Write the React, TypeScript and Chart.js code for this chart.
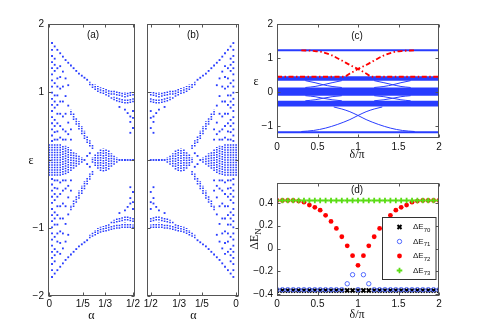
import React, { useEffect, useRef } from 'react';
import { Chart, registerables } from 'chart.js';

Chart.register(...registerables);

const BLUE = 'rgb(40,60,255)';
const BLUE_RING = 'rgb(80,105,255)';
const RED = 'rgb(255,0,0)';
const GREEN = 'rgb(90,220,20)';
const FRAME = '#555';
const TICK_FONT = { family: "'Liberation Sans', Arial, sans-serif", size: 10 };
const SANS10 = "10px 'Liberation Sans', Arial, sans-serif";
const SERIF12 = "12px 'Liberation Serif', 'DejaVu Serif', serif";

// ---------------- panels (a) and (b): ε versus α ----------------
const alphaTicks = [0, 0.2, 0.3333, 0.5];
const alphaTickLabels = ['0', '1/5', '1/3', '1/2'];
const epsTicksAB = [-2, -1, 0, 1, 2];
const epsTickLabelsAB = ['−2', '−1', '', '1', '2'];

// isolated levels: [α, ε, ε, ...]
const levelsUpper = [
  [0.016, 1.72, 1.62, 1.53, 1.44, 1.35, 1.26, 1.17, 1.08, 0.99, 0.90, 0.81, 0.72, 0.63, 0.54, 0.45, 0.36, 0.28],
  [0.032, 1.67, 1.49, 1.40, 1.31, 1.13, 0.95, 0.86, 0.77, 0.59, 0.50, 0.41, 0.30],
  [0.048, 1.62, 1.35, 1.20, 1.08, 0.95, 0.81, 0.68, 0.54, 0.42, 0.30],
  [0.065, 1.57, 1.38, 1.22, 1.05, 0.86, 0.68, 0.50, 0.33],
  [0.081, 1.52, 1.30, 1.08, 0.86, 0.64, 0.45, 0.30],
  [0.097, 1.47, 1.20, 0.94, 0.68, 0.42, 0.30],
  [0.113, 1.43, 1.10, 0.80, 0.55, 0.38],
  [0.129, 1.39, 0.45, 0.30],
  [0.145, 1.35],
  [0.161, 1.31],
  [0.177, 1.27],
  [0.194, 1.24],
  [0.210, 1.21],
  [0.226, 1.18],
  [0.419, 0.78],
  [0.452, 0.74],
  [0.468, 0.69],
  [0.484, 0.64, 0.56, 0.40],
  [0.500, 0.72, 0.62, 0.47],
];
const levelsLower = [
  [0.016, -1.72, -1.62, -1.53, -1.44, -1.35, -1.26, -1.17, -1.08, -0.99, -0.90, -0.81, -0.72, -0.63, -0.54, -0.45, -0.36, -0.28],
  [0.032, -1.67, -1.49, -1.40, -1.31, -1.13, -0.95, -0.86, -0.77, -0.59, -0.50, -0.41, -0.30],
  [0.048, -1.62, -1.35, -1.20, -1.08, -0.95, -0.81, -0.68, -0.54, -0.42, -0.30],
  [0.065, -1.57, -1.38, -1.22, -1.05, -0.86, -0.68, -0.50, -0.33],
  [0.081, -1.52, -1.30, -1.08, -0.86, -0.64, -0.45, -0.30],
  [0.097, -1.47, -1.20, -0.94, -0.68, -0.42, -0.30],
  [0.113, -1.43, -1.10, -0.80, -0.55, -0.38],
  [0.129, -1.39, -0.45, -0.30],
  [0.145, -1.35],
  [0.161, -1.31],
  [0.177, -1.27],
  [0.194, -1.24],
  [0.210, -1.21],
  [0.226, -1.18],
  [0.419, -0.78],
  [0.452, -0.74],
  [0.468, -0.69],
  [0.484, -0.64, -0.56, -0.40],
  [0.500, -0.72, -0.62, -0.47],
];
const levelsCentre = [
  [0.210, 0.0],
  [0.226, 0.06, -0.06],
  [0.242, 0.10, -0.10],
  [0.419, 0.0],
  [0.435, 0.0],
  [0.452, 0.0],
  [0.468, 0.0],
  [0.484, 0.0],
  [0.500, 0.0],
];

// dense bands of levels: [α, ε low, ε high]
const bandsUpper = [
  [0.129, 0.66, 0.74], [0.145, 0.59, 0.69], [0.161, 0.52, 0.63], [0.177, 0.45, 0.57],
  [0.194, 0.38, 0.50], [0.210, 0.31, 0.43], [0.226, 0.25, 0.36], [0.242, 0.20, 0.29],
  [0.258, 0.16, 0.22],
  [0.242, 1.10, 1.15], [0.258, 1.06, 1.13], [0.274, 1.03, 1.11], [0.290, 1.00, 1.09],
  [0.306, 0.98, 1.07], [0.323, 0.97, 1.06], [0.339, 0.95, 1.05], [0.355, 0.93, 1.04],
  [0.371, 0.96, 1.03], [0.371, 0.90, 0.93], [0.387, 0.96, 1.02], [0.387, 0.88, 0.93],
  [0.403, 0.95, 1.01], [0.403, 0.86, 0.92], [0.419, 0.94, 1.01], [0.419, 0.85, 0.91],
  [0.435, 0.93, 1.00], [0.435, 0.84, 0.90], [0.452, 0.92, 1.00], [0.452, 0.83, 0.89],
  [0.468, 0.93, 1.00], [0.468, 0.83, 0.89], [0.484, 0.94, 1.00], [0.484, 0.84, 0.90],
  [0.500, 0.95, 1.00], [0.500, 0.85, 0.91],
];
const bandsLower = [
  [0.129, -0.74, -0.66], [0.145, -0.69, -0.59], [0.161, -0.63, -0.52], [0.177, -0.57, -0.45],
  [0.194, -0.50, -0.38], [0.210, -0.43, -0.31], [0.226, -0.36, -0.25], [0.242, -0.29, -0.20],
  [0.258, -0.22, -0.16],
  [0.242, -1.15, -1.10], [0.258, -1.13, -1.06], [0.274, -1.11, -1.03], [0.290, -1.09, -1.00],
  [0.306, -1.07, -0.98], [0.323, -1.06, -0.97], [0.339, -1.05, -0.95], [0.355, -1.04, -0.93],
  [0.371, -1.03, -0.96], [0.371, -0.93, -0.90], [0.387, -1.02, -0.96], [0.387, -0.93, -0.88],
  [0.403, -1.01, -0.95], [0.403, -0.92, -0.86], [0.419, -1.01, -0.94], [0.419, -0.91, -0.85],
  [0.435, -1.00, -0.93], [0.435, -0.90, -0.84], [0.452, -1.00, -0.92], [0.452, -0.89, -0.83],
  [0.468, -1.00, -0.93], [0.468, -0.89, -0.83], [0.484, -1.00, -0.94], [0.484, -0.90, -0.84],
  [0.500, -1.00, -0.95], [0.500, -0.91, -0.85],
];
const bandsCentre = [
  [0.000, -0.23, 0.23], [0.016, -0.23, 0.23], [0.032, -0.23, 0.23], [0.048, -0.23, 0.23],
  [0.065, -0.23, 0.23], [0.081, -0.22, 0.22], [0.097, -0.21, 0.21], [0.113, -0.19, 0.19],
  [0.129, -0.16, 0.16], [0.145, -0.13, 0.13], [0.161, -0.10, 0.10], [0.177, -0.07, 0.07],
  [0.194, -0.04, 0.04],
  [0.258, -0.04, 0.04], [0.274, -0.09, 0.09], [0.290, -0.13, 0.13], [0.306, -0.16, 0.16],
  [0.323, -0.17, 0.17], [0.339, -0.16, 0.16], [0.355, -0.14, 0.14], [0.371, -0.10, 0.10],
  [0.387, -0.07, 0.07], [0.403, -0.04, 0.04],
];

// ---------------- panel (c): ε versus δ/π ----------------
const deltaTicks = [0, 0.5, 1, 1.5, 2];
const deltaTickLabels = ['0', '0.5', '1', '1.5', '2'];
const epsTicksC = [-1, 0, 1, 2];
const epsTickLabelsC = ['−1', '0', '1', '2'];
const deltaSpan = [0, 2];
const cBands = [[1.20, 1.26], [0.34, 0.47], [-0.10, 0.14], [-0.42, -0.25], [-1.20, -1.14]];
const cBlueCurves = [
  [[0.35, 0.34], [0.47, 0.28], [0.57, 0.22], [0.68, 0.17], [0.80, 0.14]],
  [[0.35, 0.14], [0.47, 0.17], [0.57, 0.22], [0.68, 0.28], [0.80, 0.34]],
  [[1.20, 0.34], [1.32, 0.28], [1.43, 0.22], [1.53, 0.17], [1.65, 0.14]],
  [[1.20, 0.14], [1.32, 0.17], [1.43, 0.22], [1.53, 0.28], [1.65, 0.34]],
  [[0.35, -0.10], [0.47, -0.13], [0.57, -0.175], [0.68, -0.22], [0.80, -0.25]],
  [[0.35, -0.25], [0.47, -0.22], [0.57, -0.175], [0.68, -0.13], [0.80, -0.10]],
  [[1.20, -0.10], [1.32, -0.13], [1.43, -0.175], [1.53, -0.22], [1.65, -0.25]],
  [[1.20, -0.25], [1.32, -0.22], [1.43, -0.175], [1.53, -0.13], [1.65, -0.10]],
  [[0.30, -1.15], [0.45, -1.12], [0.60, -1.05], [0.75, -0.94], [0.90, -0.80], [1.00, -0.68], [1.10, -0.57], [1.20, -0.49], [1.30, -0.43]],
  [[0.70, -0.43], [0.80, -0.49], [0.90, -0.57], [1.00, -0.68], [1.10, -0.80], [1.25, -0.94], [1.40, -1.05], [1.55, -1.12], [1.70, -1.15]],
];
const cRed1 = [[0.30, 1.23], [0.45, 1.21], [0.55, 1.18], [0.67, 1.09], [0.80, 0.93], [0.90, 0.80], [1.00, 0.68], [1.10, 0.55], [1.17, 0.455], [2.00, 0.455]];
const cRed2 = [[0.00, 0.455], [0.83, 0.455], [0.90, 0.55], [1.00, 0.68], [1.10, 0.80], [1.20, 0.93], [1.33, 1.09], [1.45, 1.18], [1.55, 1.21], [1.70, 1.23]];

// ---------------- panel (d): ΔE_N versus δ/π ----------------
const deltaD = [0, 0.067, 0.133, 0.2, 0.267, 0.333, 0.4, 0.467, 0.533, 0.6, 0.667, 0.733, 0.8, 0.867, 0.933, 1.0,
  1.067, 1.133, 1.2, 1.267, 1.333, 1.4, 1.467, 1.533, 1.6, 1.667, 1.733, 1.8, 1.867, 1.933, 2.0];
const dE70 = [-0.366, -0.366, -0.366, -0.366, -0.366, -0.366, -0.366, -0.366, -0.366, -0.366, -0.366, -0.366, -0.366, -0.366, -0.366, -0.366,
  -0.366, -0.366, -0.366, -0.366, -0.366, -0.366, -0.366, -0.366, -0.366, -0.366, -0.366, -0.366, -0.366, -0.366, -0.366];
const dE71 = [-0.36, -0.36, -0.36, -0.36, -0.36, -0.36, -0.36, -0.36, -0.36, -0.36, -0.36, -0.36, -0.36, -0.308, -0.229, -0.36,
  -0.229, -0.308, -0.36, -0.36, -0.36, -0.36, -0.36, -0.36, -0.36, -0.36, -0.36, -0.36, -0.36, -0.36, -0.36];
const dE72 = [0.42, 0.42, 0.42, 0.42, 0.415, 0.405, 0.38, 0.36, 0.335, 0.29, 0.237, 0.176, 0.103, 0.024, -0.062, -0.147,
  -0.062, 0.024, 0.103, 0.176, 0.237, 0.29, 0.335, 0.36, 0.38, 0.405, 0.415, 0.42, 0.42, 0.42, 0.42];
const dE73 = [0.42, 0.42, 0.42, 0.42, 0.42, 0.42, 0.42, 0.42, 0.42, 0.42, 0.42, 0.42, 0.42, 0.42, 0.42, 0.42,
  0.42, 0.42, 0.42, 0.42, 0.42, 0.42, 0.42, 0.42, 0.42, 0.42, 0.42, 0.42, 0.42, 0.42, 0.42];
const dTicksY = [-0.4, -0.2, 0, 0.2, 0.4];
const dTickLabelsY = ['−0.4', '−0.2', '0', '0.2', '0.4'];
const legendNames = ['70', '71', '72', '73'];

// ---------------- helpers ----------------
function bandPoints(rows: number[][]) {
  const out: any[] = [];
  for (const [a, lo, hi] of rows) out.push({ x: a, y: lo }, { x: a, y: hi }, { x: a, y: null });
  return out;
}
function levelPoints(rows: number[][]) {
  const out: any[] = [];
  for (const r of rows) for (let i = 1; i < r.length; i++) out.push({ x: r[0], y: r[i] });
  return out;
}
function pairPoints(rows: number[][]) {
  return rows.map(([x, y]) => ({ x, y }));
}
function seriesPoints(xs: number[], ys: number[]) {
  return xs.map((x, i) => ({ x, y: ys[i] }));
}

function makeScale(o: any) {
  return {
    type: 'linear',
    min: o.min,
    max: o.max,
    reverse: !!o.reverse,
    grid: { display: false, drawTicks: false, tickLength: 0 },
    border: { display: false },
    afterBuildTicks: (s: any) => {
      s.ticks = o.values.map((v: number) => ({ value: v }));
    },
    afterFit: (s: any) => {
      if (o.horizontal) s.height = o.size;
      else s.width = o.size;
    },
    ticks: {
      display: !!o.labels,
      autoSkip: false,
      maxRotation: 0,
      minRotation: 0,
      padding: o.pad,
      color: '#111',
      font: TICK_FONT,
      callback: (_v: any, i: number) => (o.labels ? o.labels[i] : ''),
    },
  };
}

function text(ctx: CanvasRenderingContext2D, ox: number, oy: number, s: string, x: number, y: number, font: string) {
  ctx.font = font;
  ctx.fillStyle = '#111';
  ctx.textAlign = 'center';
  ctx.textBaseline = 'middle';
  ctx.fillText(s, x - ox, y - oy);
}

function framePlugin(extra: (ctx: CanvasRenderingContext2D, chart: any) => void) {
  return {
    id: 'frame',
    afterDatasetsDraw(chart: any) {
      const { ctx, chartArea: a, scales } = chart;
      ctx.save();
      ctx.strokeStyle = FRAME;
      ctx.lineWidth = 1;
      const L = Math.round(a.left) + 0.5;
      const R = Math.round(a.right) - 0.5;
      const T = Math.round(a.top) + 0.5;
      const B = Math.round(a.bottom) - 0.5;
      ctx.strokeRect(L, T, R - L, B - T);
      const len = 3;
      ctx.beginPath();
      for (const t of scales.x.ticks) {
        const p = Math.round(scales.x.getPixelForValue(t.value)) + 0.5;
        ctx.moveTo(p, B); ctx.lineTo(p, B - len);
        ctx.moveTo(p, T); ctx.lineTo(p, T + len);
      }
      for (const t of scales.y.ticks) {
        const p = Math.round(scales.y.getPixelForValue(t.value)) + 0.5;
        ctx.moveTo(L, p); ctx.lineTo(L + len, p);
        ctx.moveTo(R, p); ctx.lineTo(R - len, p);
      }
      ctx.stroke();
      extra(ctx, chart);
      ctx.restore();
    },
  };
}

function baseOptions(padding: any, scales: any) {
  return {
    responsive: false,
    animation: false,
    devicePixelRatio: 1,
    events: [],
    layout: { padding, autoPadding: false },
    plugins: { legend: { display: false }, tooltip: { enabled: false } },
    scales,
  };
}

function butterflyDatasets() {
  return [
    {
      type: 'scatter',
      data: [...levelPoints(levelsUpper), ...levelPoints(levelsCentre), ...levelPoints(levelsLower)],
      pointStyle: 'rect',
      pointRadius: 1.3,
      backgroundColor: BLUE,
      borderWidth: 0,
    },
    {
      type: 'line',
      data: [...bandPoints(bandsUpper), ...bandPoints(bandsCentre), ...bandPoints(bandsLower)],
      borderColor: BLUE,
      borderWidth: 1.6,
      borderDash: [1.5, 1],
      pointRadius: 0,
      spanGaps: false,
      tension: 0,
    },
  ];
}

function buildA(ox: number, oy: number) {
  return {
    type: 'scatter',
    data: { datasets: butterflyDatasets() },
    options: baseOptions({ left: 0, top: 24, right: 8, bottom: 0 }, {
      x: makeScale({ min: -0.008, max: 0.512, values: alphaTicks, labels: alphaTickLabels, horizontal: true, size: 37, pad: 2 }),
      y: makeScale({ min: -2, max: 2, values: epsTicksAB, labels: epsTickLabelsAB, size: 48, pad: 4 }),
    }),
    plugins: [framePlugin((ctx) => {
      text(ctx, ox, oy, '(a)', 93, 35, SANS10);
      text(ctx, ox, oy, 'α', 91.5, 316, SERIF12);
      text(ctx, ox, oy, 'ε', 31, 161, SERIF12);
    })],
  };
}

function buildB(ox: number, oy: number) {
  return {
    type: 'scatter',
    data: { datasets: butterflyDatasets() },
    options: baseOptions({ left: 0, top: 24, right: 6, bottom: 0 }, {
      x: makeScale({ min: -0.017, max: 0.522, reverse: true, values: alphaTicks, labels: alphaTickLabels, horizontal: true, size: 37, pad: 2 }),
      y: makeScale({ min: -2, max: 2, values: epsTicksAB, labels: null, size: 7, pad: 0 }),
    }),
    plugins: [framePlugin((ctx) => {
      text(ctx, ox, oy, '(b)', 193, 35, SANS10);
      text(ctx, ox, oy, 'α', 193.5, 316, SERIF12);
    })],
  };
}

function buildC(ox: number, oy: number) {
  const reds = [cRed1, cRed2].map((c) => ({
    type: 'line',
    data: pairPoints(c),
    borderColor: RED,
    borderWidth: 1.8,
    borderDash: [5, 2.5, 1.5, 2.5],
    pointRadius: 0,
    cubicInterpolationMode: 'monotone',
  }));
  const blues = cBlueCurves.map((c) => ({
    type: 'line',
    data: pairPoints(c),
    borderColor: BLUE,
    borderWidth: 1,
    pointRadius: 0,
    cubicInterpolationMode: 'monotone',
  }));
  const bands = cBands.map(([lo, hi]) => ({
    type: 'line',
    data: deltaSpan.map((d) => ({ x: d, y: hi })),
    borderWidth: 0,
    borderColor: BLUE,
    backgroundColor: BLUE,
    fill: { value: lo },
    pointRadius: 0,
  }));
  return {
    type: 'scatter',
    data: { datasets: [...reds, ...blues, ...bands] },
    options: baseOptions({ left: 0, top: 24, right: 46, bottom: 0 }, {
      x: makeScale({ min: 0, max: 2, values: deltaTicks, labels: deltaTickLabels, horizontal: true, size: 22, pad: 3 }),
      y: makeScale({ min: -1.34, max: 2, values: epsTicksC, labels: epsTickLabelsC, size: 32, pad: 4 }),
    }),
    plugins: [framePlugin((ctx) => {
      text(ctx, ox, oy, '(c)', 357, 36, SANS10);
      text(ctx, ox, oy, 'ε', 256, 82, SERIF12);
      text(ctx, ox, oy, 'δ/π', 357, 155, SERIF12);
    })],
  };
}

function drawMarker(ctx: CanvasRenderingContext2D, i: number, x: number, y: number) {
  ctx.save();
  ctx.beginPath();
  if (i === 0) {
    ctx.strokeStyle = '#000'; ctx.lineWidth = 2;
    ctx.moveTo(x - 2, y - 2); ctx.lineTo(x + 2, y + 2);
    ctx.moveTo(x + 2, y - 2); ctx.lineTo(x - 2, y + 2);
    ctx.stroke();
  } else if (i === 1) {
    ctx.strokeStyle = BLUE_RING; ctx.lineWidth = 1;
    ctx.arc(x, y, 2.2, 0, Math.PI * 2);
    ctx.stroke();
  } else if (i === 2) {
    ctx.fillStyle = RED;
    ctx.arc(x, y, 2.4, 0, Math.PI * 2);
    ctx.fill();
  } else {
    ctx.strokeStyle = GREEN; ctx.lineWidth = 1.8;
    ctx.moveTo(x - 2.8, y); ctx.lineTo(x + 2.8, y);
    ctx.moveTo(x, y - 2.8); ctx.lineTo(x, y + 2.8);
    ctx.stroke();
  }
  ctx.restore();
}

function buildD(ox: number, oy: number) {
  return {
    type: 'scatter',
    data: {
      datasets: [
        { data: seriesPoints(deltaD, dE73), pointStyle: 'cross', pointRadius: 2.8, borderWidth: 1.8, borderColor: GREEN, backgroundColor: GREEN },
        { data: seriesPoints(deltaD, dE72), pointStyle: 'circle', pointRadius: 2.4, borderWidth: 0, backgroundColor: RED },
        { data: seriesPoints(deltaD, dE71), pointStyle: 'circle', pointRadius: 2.2, borderWidth: 1, borderColor: BLUE_RING, backgroundColor: 'rgba(0,0,0,0)' },
        { data: seriesPoints(deltaD, dE70), pointStyle: 'crossRot', pointRadius: 2.9, borderWidth: 2, borderColor: '#000', backgroundColor: '#000' },
      ],
    },
    options: baseOptions({ left: 0, top: 23, right: 46, bottom: 0 }, {
      x: makeScale({ min: 0, max: 2, values: deltaTicks, labels: deltaTickLabels, horizontal: true, size: 37, pad: 2 }),
      y: makeScale({ min: -0.415, max: 0.573, values: dTicksY, labels: dTickLabelsY, size: 32, pad: 4 }),
    }),
    plugins: [framePlugin((ctx) => {
      text(ctx, ox, oy, '(d)', 357, 190, SANS10);
      text(ctx, ox, oy, 'δ/π', 357, 315, SERIF12);
      // rotated y title ΔE_N
      ctx.save();
      ctx.translate(255 - ox, 239 - oy);
      ctx.rotate(-Math.PI / 2);
      ctx.fillStyle = '#111';
      ctx.textBaseline = 'middle';
      ctx.textAlign = 'left';
      ctx.font = SERIF12;
      const w1 = ctx.measureText('ΔE').width;
      ctx.font = "9px 'Liberation Serif', serif";
      const w2 = ctx.measureText('N').width;
      const start = -(w1 + w2) / 2;
      ctx.font = SERIF12;
      ctx.fillText('ΔE', start, 0);
      ctx.font = "9px 'Liberation Serif', serif";
      ctx.fillText('N', start + w1, 3.5);
      ctx.restore();
      // legend box
      const bx = 382.5 - ox, by = 217.5 - oy;
      ctx.fillStyle = '#fff';
      ctx.fillRect(bx, by, 53.5, 62);
      ctx.strokeStyle = '#333';
      ctx.lineWidth = 1;
      ctx.strokeRect(bx, by, 53.5, 62);
      legendNames.forEach((n, i) => {
        const ry = 227 + i * 14.5 - oy;
        drawMarker(ctx, i, 399.5 - ox, ry);
        ctx.fillStyle = '#111';
        ctx.textAlign = 'left';
        ctx.textBaseline = 'middle';
        ctx.font = "8px 'Liberation Sans', Arial, sans-serif";
        ctx.fillText('ΔE', 413 - ox, ry);
        const w = ctx.measureText('ΔE').width;
        ctx.font = "6px 'Liberation Sans', Arial, sans-serif";
        ctx.fillText(n, 413 - ox + w, ry + 3);
      });
    })],
  };
}

function Panel({ x, y, w, h, build }: { x: number; y: number; w: number; h: number; build: (ox: number, oy: number) => any }) {
  const ref = useRef<HTMLCanvasElement>(null);
  useEffect(() => {
    const chart = new Chart(ref.current as HTMLCanvasElement, build(x, y));
    return () => chart.destroy();
  }, []);
  return (
    <canvas
      ref={ref}
      width={w}
      height={h}
      style={{ position: 'absolute', left: x, top: y, width: w, height: h }}
    />
  );
}

export default function App() {
  return (
    <div style={{ position: 'fixed', left: 0, top: 0, width: 485, height: 333, background: '#fff', overflow: 'hidden' }}>
      <Panel x={0} y={0} w={143} h={333} build={buildA} />
      <Panel x={140} y={0} w={105} h={333} build={buildB} />
      <Panel x={245} y={0} w={240} h={160} build={buildC} />
      <Panel x={245} y={160} w={240} h={173} build={buildD} />
    </div>
  );
}
